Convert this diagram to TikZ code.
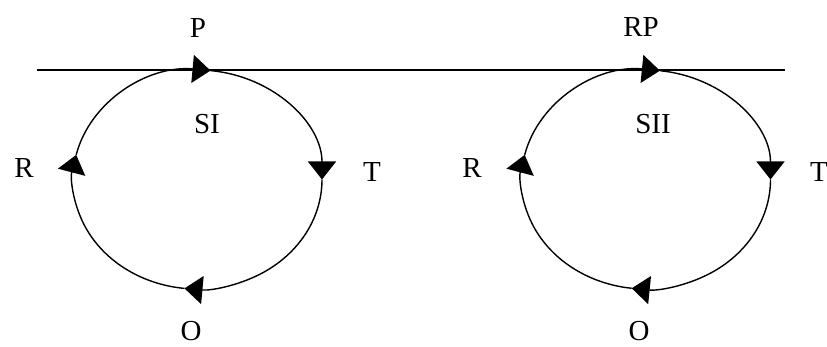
\documentclass[tikz,border=0pt]{standalone}
\usepackage{fontspec}
\setmainfont{Liberation Serif}
\usetikzlibrary{arrows.meta}
\begin{document}
\begin{tikzpicture}[x=1pt,y=1pt,
  lbl/.style={inner sep=0pt,anchor=center,font=\fontsize{29}{33}\selectfont},
  cyc/.style={line width=1.4pt,-{Triangle[length=18pt,width=28pt]}},
  ln/.style={line width=1.4pt}]
\useasboundingbox (0,0) rectangle (827,347);
\coordinate (c1) at (197.5,167.5);
\coordinate (c2) at (646,167.5);
\coordinate (h1) at (37,277);
\coordinate (h2) at (785,277);
\draw[ln] (h1) -- (h2);
\foreach \c/\t/\b in {c1/84/-96, c2/83.6/-96.6}{
  \draw[cyc] (\c) ++(167:124.5 and 109.5) arc[start angle=167, end angle=\t, x radius=124.5, y radius=109.5];
  \draw[cyc] (\c) ++(\t:124.5 and 109.5) arc[start angle=\t, end angle=0, x radius=124.5, y radius=109.5];
  \draw[cyc] (\c) ++(0:124.5 and 109.5) arc[start angle=0, end angle=\b, x radius=124.5, y radius=109.5];
  \draw[cyc] (\c) ++(\b:124.5 and 109.5) arc[start angle=\b, end angle=-193, x radius=124.5, y radius=109.5];
}
\node[lbl] (p) at (198,319) {P};
\node[lbl] (si) at (207,223) {SI};
\node[lbl] (r1) at (24,179) {R};
\node[lbl] (t1) at (372,175) {T};
\node[lbl] (o1) at (191,16) {O};
\node[lbl] (rp) at (641,320) {RP};
\node[lbl] (sii) at (653,223) {SII};
\node[lbl] (r2) at (472,179) {R};
\node[lbl] (t2) at (819,175) {T};
\node[lbl] (o2) at (639,16) {O};
\end{tikzpicture}
\end{document}
